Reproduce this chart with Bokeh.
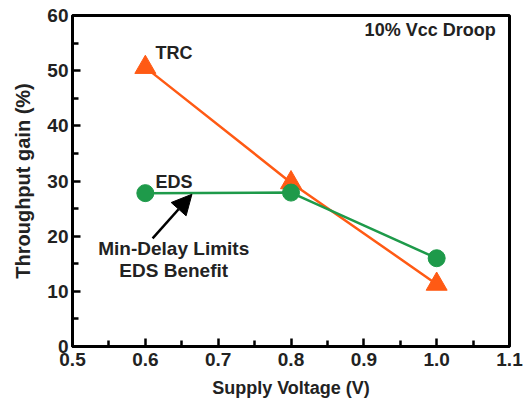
from bokeh.plotting import figure
from bokeh.models import Range1d, FixedTicker, PrintfTickFormatter, Arrow, NormalHead, Label
from bokeh.embed import file_html
from bokeh.resources import INLINE

voltage = [0.6, 0.8, 1.0]
trc = [50.6, 29.7, 11.3]
eds = [27.8, 27.9, 16.0]
x_ticks = [0.5, 0.6, 0.7, 0.8, 0.9, 1.0, 1.1]
x_minor = [0.55, 0.65, 0.75, 0.85, 0.95, 1.05]
y_ticks = [0, 10, 20, 30, 40, 50, 60]
y_minor = [5, 15, 25, 35, 45, 55]

ORANGE = "#ff5a14"
GREEN = "#1e9a4a"
FONT = "Liberation Sans"

p = figure(width=524, height=405, output_backend="svg", toolbar_location=None,
           x_range=Range1d(0.5, 1.1), y_range=Range1d(0, 60),
           min_border_left=72, min_border_right=15, min_border_top=15, min_border_bottom=59)
p.xgrid.visible = False
p.ygrid.visible = False
p.outline_line_color = "black"
p.outline_line_width = 3
p.background_fill_color = "white"
p.border_fill_color = "white"

p.xaxis.ticker = FixedTicker(ticks=x_ticks, minor_ticks=x_minor)
p.yaxis.ticker = FixedTicker(ticks=y_ticks, minor_ticks=y_minor)
p.xaxis.formatter = PrintfTickFormatter(format="%.1f")
p.xaxis.axis_label = "Supply Voltage (V)"
p.yaxis.axis_label = "Throughput gain (%)"

for ax in (p.xaxis, p.yaxis):
    ax.axis_line_width = 3
    ax.axis_line_color = "black"
    ax.major_tick_in = 8
    ax.major_tick_out = 0
    ax.minor_tick_in = 6
    ax.minor_tick_out = 0
    ax.major_tick_line_width = 2.5
    ax.minor_tick_line_width = 2.5
    ax.major_tick_line_color = "black"
    ax.minor_tick_line_color = "black"
    ax.major_label_text_font = FONT
    ax.major_label_text_font_style = "bold"
    ax.major_label_text_font_size = "19px"
    ax.major_label_text_color = "#222222"
    ax.axis_label_text_font = FONT
    ax.axis_label_text_font_style = "bold"
    ax.axis_label_text_color = "#222222"

p.xaxis.major_label_standoff = 6
p.yaxis.major_label_standoff = 4
p.xaxis.axis_label_text_font_size = "18px"
p.yaxis.axis_label_text_font_size = "20px"
p.xaxis.axis_label_standoff = 9
p.yaxis.axis_label_standoff = 10

p.line(voltage, trc, line_color=ORANGE, line_width=2.5)
p.scatter(voltage, trc, marker="triangle", size=21, fill_color=ORANGE, line_color=ORANGE)
p.line(voltage, eds, line_color=GREEN, line_width=2.5)
p.scatter(voltage, eds, marker="circle", size=17, fill_color=GREEN, line_color=GREEN)

def lab(x, y, t, align="left", size="18px"):
    p.add_layout(Label(x=x, y=y, text=t, text_font=FONT, text_font_style="bold",
                       text_font_size=size, text_align=align, text_baseline="middle",
                       text_color="#222222"))

lab(0.614, 53.2, "TRC")
lab(0.614, 29.9, "EDS")
lab(1.081, 57.3, "10% Vcc Droop", align="right")
lab(0.639, 17.7, "Min-Delay Limits", align="center", size="19px")
lab(0.639, 13.8, "EDS Benefit", align="center", size="19px")

p.add_layout(Arrow(end=NormalHead(size=20, fill_color="black", line_color="black"),
                   x_start=0.610, y_start=19.6, x_end=0.664, y_end=27.6,
                   line_width=2.5, line_color="black"))

open("out.html", "w").write(file_html(p, INLINE))
